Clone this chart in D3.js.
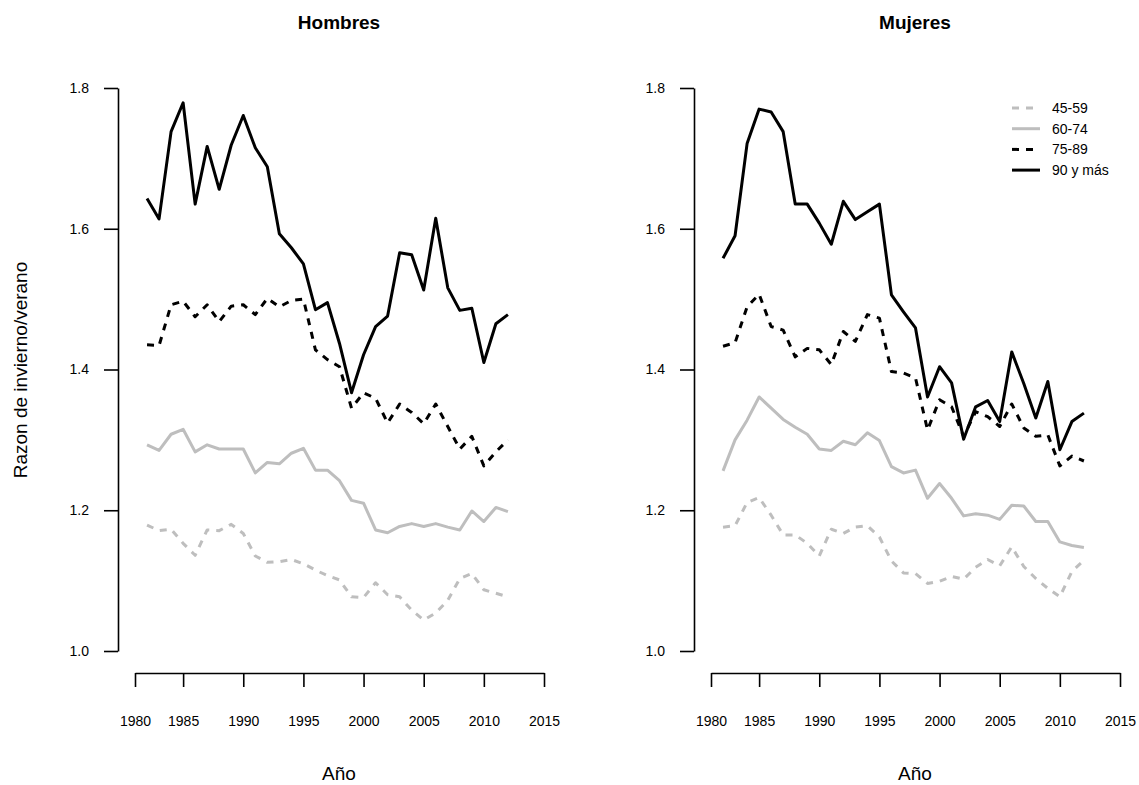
<!DOCTYPE html>
<html>
<head>
<meta charset="utf-8">
<script src="https://cdn.jsdelivr.net/npm/d3@7"></script>
<style>
  html, body { margin: 0; padding: 0; background: #fff; }
  svg { display: block; font-family: "Liberation Sans", Arial, Helvetica, sans-serif; }
</style>
</head>
<body>
<svg id="chart" width="1139" height="785"></svg>
<script>
// --- data ---
const years = [1982, 1983, 1984, 1985, 1986, 1987, 1988, 1989, 1990, 1991,
               1992, 1993, 1994, 1995, 1996, 1997, 1998, 1999, 2000, 2001,
               2002, 2003, 2004, 2005, 2006, 2007, 2008, 2009, 2010, 2011, 2012];

const groups = ['45-59', '60-74', '75-89', '90 y más'];
const panelTitles = ['Hombres', 'Mujeres'];

const hombres45 = [1.179,1.171,1.173,1.153,1.136,1.172,1.171,1.180,1.167,1.135,1.126,1.127,1.130,1.124,1.115,1.107,
                   1.101,1.077,1.076,1.097,1.080,1.077,1.058,1.044,1.054,1.072,1.103,1.110,1.087,1.082,1.077];
const hombres60 = [1.293,1.285,1.308,1.315,1.283,1.293,1.287,1.287,1.287,1.253,1.268,1.266,1.281,1.288,1.257,1.257,
                   1.242,1.214,1.210,1.172,1.168,1.177,1.181,1.177,1.181,1.176,1.172,1.199,1.184,1.204,1.198];
const hombres75 = [1.435,1.434,1.492,1.497,1.475,1.492,1.468,1.490,1.492,1.478,1.501,1.489,1.498,1.500,1.428,1.414,
                   1.404,1.345,1.367,1.359,1.324,1.351,1.339,1.323,1.351,1.319,1.287,1.305,1.263,1.283,1.300];
const hombres90 = [1.643,1.614,1.738,1.779,1.635,1.717,1.656,1.719,1.761,1.715,1.688,1.593,1.573,1.550,1.485,1.495,
                   1.437,1.367,1.421,1.461,1.476,1.566,1.563,1.513,1.615,1.516,1.484,1.487,1.410,1.465,1.478];

const mujeres45 = [1.176,1.178,1.211,1.218,1.193,1.165,1.165,1.153,1.135,1.173,1.167,1.176,1.178,1.162,1.128,1.111,
                   1.110,1.096,1.099,1.106,1.102,1.119,1.130,1.121,1.148,1.120,1.103,1.089,1.077,1.113,1.129];
const mujeres60 = [1.256,1.300,1.328,1.361,1.345,1.329,1.318,1.308,1.287,1.285,1.298,1.293,1.310,1.299,1.262,1.253,
                   1.257,1.217,1.238,1.217,1.192,1.195,1.193,1.187,1.207,1.206,1.184,1.184,1.155,1.150,1.147];
const mujeres75 = [1.433,1.438,1.489,1.507,1.461,1.456,1.418,1.430,1.428,1.407,1.454,1.440,1.478,1.473,1.397,1.395,
                   1.388,1.314,1.357,1.347,1.305,1.340,1.333,1.319,1.351,1.317,1.305,1.307,1.263,1.277,1.270];
const mujeres90 = [1.558,1.590,1.721,1.770,1.766,1.738,1.635,1.635,1.608,1.578,1.639,1.613,1.624,1.635,1.506,1.482,
                   1.459,1.361,1.404,1.381,1.301,1.347,1.356,1.326,1.425,1.380,1.331,1.383,1.286,1.326,1.338];

// axis ticks (first tick sits on 1981 but reads "1980", as in the original)
const xTickValues = [1981, 1985, 1990, 1995, 2000, 2005, 2010, 2015];
const xTickLabels = ['1980', '1985', '1990', '1995', '2000', '2005', '2010', '2015'];
const yTickValues = [1.0, 1.2, 1.4, 1.6, 1.8];

// --- styles per age group ---
const GRAY = '#bebebe';
const styles = [
  { color: GRAY,   dash: '7,7' },
  { color: GRAY,   dash: null  },
  { color: '#000', dash: '7,7' },
  { color: '#000', dash: null  }
];

const panels = [
  { title: panelTitles[0], series: [hombres45, hombres60, hombres75, hombres90], dx: 0 },
  { title: panelTitles[1], series: [mujeres45, mujeres60, mujeres75, mujeres90], dx: 576 }
];

const svg = d3.select('#chart');
svg.append('rect').attr('width', 1139).attr('height', 785).attr('fill', '#fff');

const y = d3.scaleLinear().domain([1.0, 1.8]).range([651, 88]);

panels.forEach((p, pi) => {
  const x = d3.scaleLinear().domain([1981, 2015]).range([135 + p.dx, 544 + p.dx]);
  const yAxisX = 118 + p.dx;
  const g = svg.append('g');

  // y axis
  const ya = g.append('g')
    .attr('transform', `translate(${yAxisX},0)`)
    .call(d3.axisLeft(y).tickValues(yTickValues).tickFormat(d3.format('.1f'))
      .tickSize(14).tickSizeOuter(0).tickPadding(15));

  // x axis
  const xa = g.append('g')
    .attr('transform', 'translate(0,673)')
    .call(d3.axisBottom(x).tickValues(xTickValues).tickFormat((d, i) => xTickLabels[i])
      .tickSize(14).tickSizeOuter(0).tickPadding(29));

  [ya, xa].forEach(a => {
    a.selectAll('path, line').attr('stroke', '#000').attr('stroke-width', 1.6);
    a.selectAll('text').attr('font-size', 14).attr('fill', '#000')
      .attr('font-family', '"Liberation Sans", Arial, sans-serif');
  });

  // lines
  const line = d3.line().x((d, i) => x(years[i])).y(d => y(d));
  p.series.forEach((vals, si) => {
    g.append('path')
      .datum(vals)
      .attr('d', line)
      .attr('fill', 'none')
      .attr('stroke', styles[si].color)
      .attr('stroke-width', 3)
      .attr('stroke-linejoin', 'round')
      .attr('stroke-dasharray', styles[si].dash);
  });

  const cx = 339 + p.dx;
  g.append('text')
    .attr('x', cx).attr('y', 29)
    .attr('text-anchor', 'middle')
    .attr('font-size', 19).attr('font-weight', 'bold')
    .text(p.title);

  g.append('text')
    .attr('x', cx).attr('y', 780)
    .attr('text-anchor', 'middle')
    .attr('font-size', 19)
    .text('Año');

  if (pi === 0) {
    g.append('text')
      .attr('transform', 'translate(27,370) rotate(-90)')
      .attr('text-anchor', 'middle')
      .attr('font-size', 19)
      .text('Razon de invierno/verano');
  }
});

// legend, top right of the Mujeres panel
const legend = svg.append('g').attr('transform', 'translate(1012,108)');
groups.forEach((label, i) => {
  const row = legend.append('g').attr('transform', `translate(0,${i * 20.7})`);
  row.append('line')
    .attr('x1', 0).attr('x2', 28)
    .attr('stroke', styles[i].color)
    .attr('stroke-width', 3)
    .attr('stroke-dasharray', styles[i].dash);
  row.append('text')
    .attr('x', 40).attr('dy', '0.35em')
    .attr('font-size', 14)
    .text(label);
});
</script>
</body>
</html>
